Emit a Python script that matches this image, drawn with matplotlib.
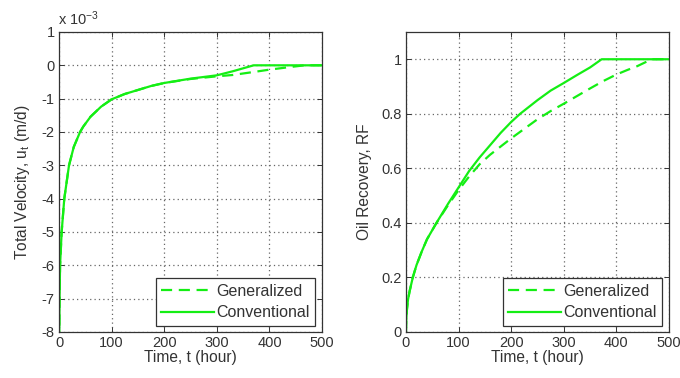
import matplotlib
matplotlib.use("Agg")
import matplotlib.pyplot as plt

plt.rcParams['font.family'] = ['Liberation Sans', 'DejaVu Sans']
plt.rcParams['mathtext.fontset'] = 'custom'
plt.rcParams['mathtext.rm'] = 'Liberation Sans'
plt.rcParams['mathtext.it'] = 'Liberation Sans'
plt.rcParams['axes.unicode_minus'] = False

# Total velocity (x 1e-3 m/d) versus time (hour)
t_vel_conv = [0, 0.5, 1, 2, 5, 10, 19, 28, 40, 46, 60, 80, 100, 125, 150, 175, 200, 250,
              300, 330, 350, 370, 420, 500]
vel_conv = [-9.5, -8, -7, -6, -5, -4, -3, -2.45, -2, -1.84, -1.54, -1.24, -1.02, -0.86, -0.74,
            -0.62, -0.53, -0.4, -0.3, -0.18, -0.09, 0, 0, 0]
t_vel_gen = [0, 0.5, 1, 2, 5, 10, 19, 28, 40, 46, 60, 80, 100, 125, 150, 175, 200, 250,
             300, 330, 370, 400, 440, 467, 500]
vel_gen = [-9.5, -8, -7, -6, -5, -4, -3, -2.45, -2, -1.84, -1.54, -1.24, -1.02, -0.86, -0.74,
           -0.62, -0.53, -0.41, -0.33, -0.29, -0.2, -0.13, -0.05, 0, 0]

# Oil recovery factor versus time (hour)
t_rf_conv = [0, 0.5, 1, 2, 4, 7, 13, 20, 30, 40, 58, 80, 100, 120, 140, 160, 180, 200, 217,
             250, 275, 300, 325, 350, 372, 400, 450, 500]
rf_conv = [0, 0.04, 0.06, 0.085, 0.12, 0.15, 0.2, 0.245, 0.295, 0.34, 0.4, 0.47, 0.53, 0.59,
           0.64, 0.685, 0.73, 0.77, 0.8, 0.85, 0.885, 0.913, 0.942, 0.97, 1, 1, 1, 1]
t_rf_gen = [0, 0.5, 1, 2, 4, 7, 13, 20, 30, 40, 58, 80, 100, 120, 140, 160, 180, 200, 225,
            250, 275, 300, 325, 350, 375, 400, 420, 440, 467, 500]
rf_gen = [0, 0.04, 0.06, 0.085, 0.12, 0.15, 0.2, 0.245, 0.295, 0.34, 0.4, 0.465, 0.52, 0.57,
          0.615, 0.65, 0.68, 0.71, 0.745, 0.78, 0.81, 0.837, 0.865, 0.893, 0.92, 0.944, 0.96,
          0.975, 1, 1]

x_ticks = [0, 100, 200, 300, 400, 500]
vel_ticks = [1, 0, -1, -2, -3, -4, -5, -6, -7, -8]
rf_ticks = [0, 0.2, 0.4, 0.6, 0.8, 1]
rf_ticklabels = ['0', '0.2', '0.4', '0.6', '0.8', '1']

green = '#14ee14'
tick_fs = 10.5
label_fs = 11.2
legend_fs = 11.5
text_col = '#333333'

fig = plt.figure(figsize=(6.8, 3.78), dpi=100)
ax1 = fig.add_axes([0.0868, 0.1217, 0.3868, 0.7937])
ax2 = fig.add_axes([0.597, 0.1217, 0.3868, 0.7937])


def style(ax):
    ax.grid(True, linestyle=(0, (1, 2.5)), color='#666666', linewidth=0.9)
    ax.tick_params(direction='in', top=True, right=True, length=3.5,
                   width=0.7, labelsize=tick_fs, colors=text_col, pad=3)
    for s in ax.spines.values():
        s.set_color(text_col)
        s.set_linewidth(0.9)
    ax.set_xlim(0, 500)
    ax.set_xticks(x_ticks)
    ax.set_xlabel('Time, t (hour)', fontsize=label_fs, color=text_col, labelpad=0)


# Left: total velocity
ax1.plot(t_vel_gen, vel_gen, color=green, lw=1.6, dashes=(5, 3), label='Generalized')
ax1.plot(t_vel_conv, vel_conv, color=green, lw=1.6, label='Conventional')
ax1.set_ylim(-8, 1)
ax1.set_yticks(vel_ticks)
style(ax1)
ax1.set_ylabel('Total Velocity, u$_t$ (m/d)', fontsize=label_fs, color=text_col, labelpad=7)
ax1.text(-0.005, 1.012, r'x 10$^{-3}$', transform=ax1.transAxes, fontsize=tick_fs,
         color=text_col, ha='left', va='bottom')

# Right: oil recovery
ax2.plot(t_rf_gen, rf_gen, color=green, lw=1.6, dashes=(5, 3), label='Generalized')
ax2.plot(t_rf_conv, rf_conv, color=green, lw=1.6, label='Conventional')
ax2.set_ylim(0, 1.1)
ax2.set_yticks(rf_ticks)
ax2.set_yticklabels(rf_ticklabels)
style(ax2)
ax2.set_ylabel('Oil Recovery, RF', fontsize=label_fs, color=text_col, labelpad=7)

for ax in (ax1, ax2):
    leg = ax.legend(loc='lower right', bbox_to_anchor=(0.975, 0.02), fontsize=legend_fs,
                    fancybox=False, framealpha=1, edgecolor=text_col,
                    handlelength=3.3, handletextpad=0.15, borderpad=0.35,
                    labelspacing=0.4, borderaxespad=0)
    leg.get_frame().set_linewidth(0.9)
    for txt in leg.get_texts():
        txt.set_color(text_col)

fig.savefig('out.png', dpi=100, facecolor='white')
